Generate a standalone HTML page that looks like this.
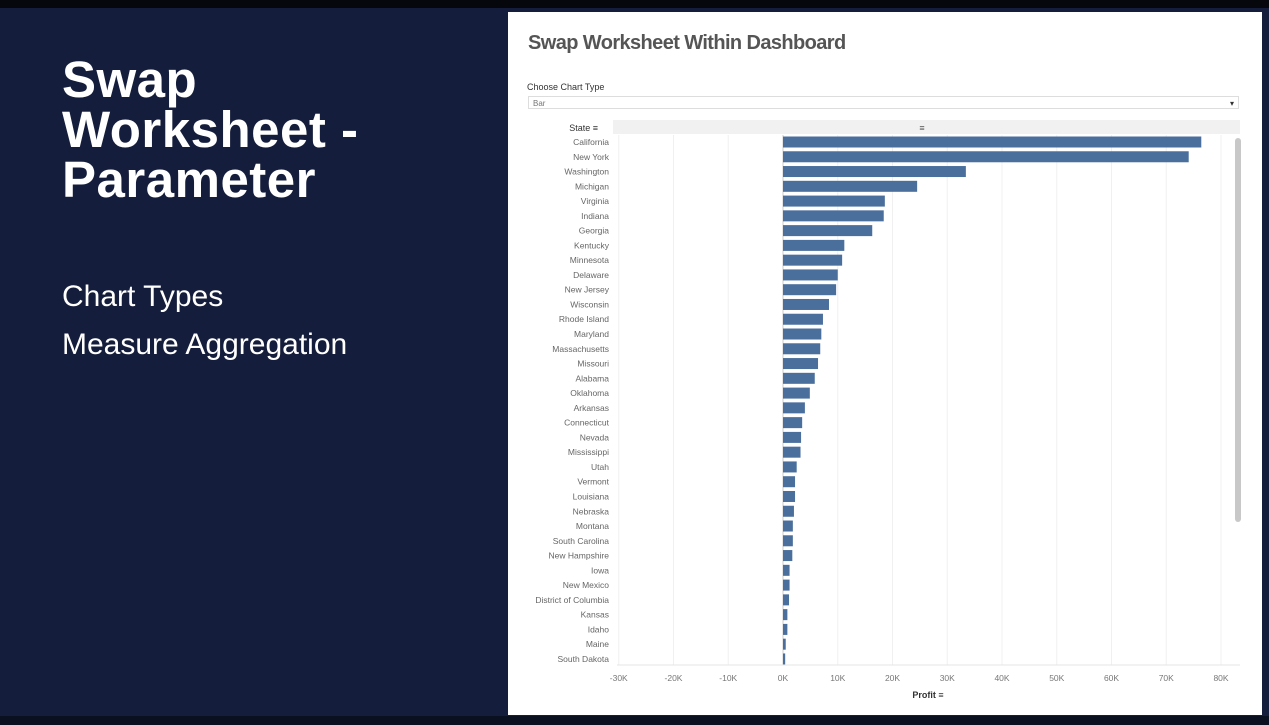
<!DOCTYPE html>
<html><head><meta charset="utf-8"><style>
body{margin:0;width:1269px;height:725px;overflow:hidden;background:#141d3b;font-family:"Liberation Sans",sans-serif;position:relative}
.abs{position:absolute}
</style></head><body>
<div class="abs" style="left:0;top:0;width:1269px;height:8px;background:#05070d"></div>
<div class="abs" style="left:62px;top:55px;color:#fff;font-size:51px;font-weight:bold;line-height:50px;letter-spacing:0.5px">Swap<br>Worksheet -<br>Parameter</div>
<div class="abs" style="left:62px;top:280px;color:#fff;font-size:30px">Chart Types</div>
<div class="abs" style="left:62px;top:328px;color:#fff;font-size:30px">Measure Aggregation</div>
<div class="abs" style="left:508px;top:12px;width:754px;height:703px;background:#fff"></div>
<div class="abs" style="left:0;top:716px;width:1269px;height:9px;background:#0b1020"></div>
<div class="abs" style="left:528px;top:32px;font-size:20px;font-weight:bold;color:#555;letter-spacing:-0.6px">Swap Worksheet Within Dashboard</div>
<div class="abs" style="left:527px;top:82px;font-size:9px;color:#333">Choose Chart Type</div>
<div class="abs" style="left:528px;top:96px;width:711px;height:13px;border:1px solid #ddd;font-size:8px;color:#777;line-height:13px;padding-left:4px;box-sizing:border-box">Bar<span style="position:absolute;right:4px;color:#333">▾</span></div>
<svg class="abs" style="left:0;top:0" width="1269" height="725" id="chart"></svg>
<script>
const states=["California","New York","Washington","Michigan","Virginia","Indiana","Georgia","Kentucky","Minnesota","Delaware","New Jersey","Wisconsin","Rhode Island","Maryland","Massachusetts","Missouri","Alabama","Oklahoma","Arkansas","Connecticut","Nevada","Mississippi","Utah","Vermont","Louisiana","Nebraska","Montana","South Carolina","New Hampshire","Iowa","New Mexico","District of Columbia","Kansas","Idaho","Maine","South Dakota"];
const profit=[76.4,74.1,33.4,24.5,18.6,18.4,16.3,11.2,10.8,10.0,9.7,8.4,7.3,7.0,6.8,6.4,5.8,4.9,4.0,3.5,3.3,3.2,2.5,2.2,2.2,2.0,1.8,1.8,1.7,1.2,1.2,1.1,0.8,0.8,0.5,0.4];
const ticks=[-30,-20,-10,0,10,20,30,40,50,60,70,80];
const NS="http://www.w3.org/2000/svg",svg=document.getElementById('chart');
const x=v=>783+v*5.475, y=i=>142+i*14.77;
function mk(t,a){const e=document.createElementNS(NS,t);for(const k in a)e.setAttribute(k,a[k]);svg.appendChild(e);return e;}
let h=mk('rect',{x:613,y:120,width:627,height:14,fill:'#f1f1f1'});


let sl=mk('text',{x:598,y:131,'font-size':9,'text-anchor':'end',fill:'#333'});sl.textContent='State ≡';


let si=mk('text',{x:922,y:131,'font-size':9,'text-anchor':'middle',fill:'#555'});si.textContent='≡';


ticks.forEach(t=>{
 let g=mk('line',{x1:x(t),x2:x(t),y1:135,y2:665,stroke:t==0?'#ccc':'#f0f0f0','stroke-width':1});
 
 
 let l=mk('text',{x:x(t),y:681,'font-size':8.5,'text-anchor':'middle',fill:'#777'});l.textContent=t+'K';
 
 
});
mk('line',{x1:617,x2:1240,y1:665,y2:665,stroke:'#e5e5e5'});
states.forEach((s,i)=>{
 let l=mk('text',{x:609,y:y(i)+3,'font-size':8.5,'text-anchor':'end',fill:'#666'});l.textContent=s;
 
 
 let b=mk('rect',{x:x(0),y:y(i)-5.5,width:x(profit[i])-x(0),height:11,fill:'#4a6f9c'});
 
 
});
let sb=mk('rect',{x:1235,y:138,width:6,height:384,rx:3,fill:'#c8c8c8'});


let xt=mk('text',{x:928,y:698,'font-size':9,'text-anchor':'middle',fill:'#333','font-weight':'bold'});xt.textContent='Profit ≡';


</script>
</body></html>
